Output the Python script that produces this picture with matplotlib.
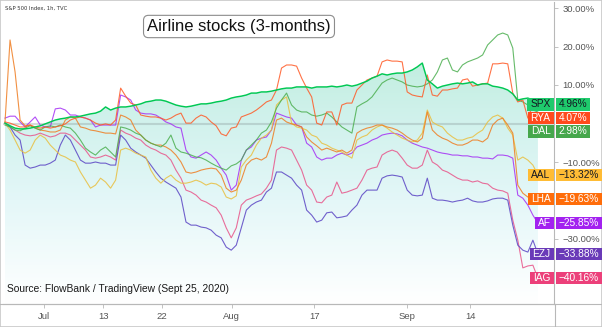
import numpy as np
import matplotlib.pyplot as plt
from matplotlib import transforms
from matplotlib.patches import Rectangle
from matplotlib.lines import Line2D
from matplotlib.colors import to_rgb

# % change over 3 months, hourly chart sampled every few bars (Jun 24 - Sep 25, 2020)
spx = [0.1, -0.6, -1.2, -1.4, -1.4, -1.2, -0.9, -0.6, -0.1, 0.4,
       0.9, 1.2, 1.4, 1.7, 1.7, 1.9, 2.2, 2.5, 2.7, 3.2,
       4.3, 3.5, 4.0, 4.3, 4.3, 4.5, 4.8, 5.1, 5.6, 5.8,
       6.1, 6.1, 5.8, 5.3, 4.8, 4.5, 4.3, 4.5, 4.8, 5.1,
       5.1, 5.3, 5.6, 5.8, 6.1, 6.6, 6.9, 7.1, 7.4, 7.9,
       7.9, 8.2, 8.2, 8.4, 8.7, 9.0, 9.2, 9.2, 9.5, 9.5,
       9.5, 9.2, 9.5, 9.5, 9.5, 9.7, 9.5, 9.7, 10.0, 9.7,
       10.0, 10.5, 11.0, 11.8, 12.3, 12.9, 12.6, 12.9, 13.1, 13.1,
       13.4, 13.9, 14.7, 15.7, 11.3, 10.3, 9.2, 9.7, 10.0, 10.3,
       10.5, 10.3, 10.5, 10.8, 10.0, 10.3, 10.3, 9.7, 9.5, 9.2,
       8.7, 7.7, 6.1, 6.4, 6.6, 6.1, 4.96]
rya = [0.4, 0.1, -0.4, -0.9, -0.9, -0.4, -0.9, -1.2, -0.9, -1.2,
       -0.9, -0.6, -0.1, 0.9, 1.4, 1.7, 1.4, 0.9, 0.1, -0.4,
       -0.1, -0.4, 0.9, 9.2, 7.1, 5.3, 4.8, 2.2, 1.9, 1.7,
       1.7, 1.4, 0.9, 1.4, 2.2, 2.7, 0.1, 0.1, 1.4, 2.2,
       1.7, 0.4, -0.6, -2.7, -3.2, -1.2, -0.9, 1.7, 2.2, 2.7,
       3.5, 4.5, 5.6, 6.1, 8.7, 14.4, 15.2, 15.2, 14.9, 11.8,
       9.2, 6.9, 0.1, -0.4, 3.0, 3.0, -0.4, 4.8, 5.3, 5.3,
       8.7, 10.0, 11.3, 11.8, 12.3, 16.0, 16.5, 16.2, 16.2, 16.0,
       8.2, 7.4, 7.1, 6.9, 12.6, 7.4, 7.1, 8.7, 8.7, 9.0,
       9.2, 11.3, 11.6, 9.7, 10.0, 10.3, 10.5, 15.5, 15.5, 15.7,
       15.5, 7.9, 5.6, 6.1, 1.4, 4.8, 4.07]
dal = [-0.4, -0.9, -1.7, -1.9, -1.2, -0.6, -1.2, -1.7, -0.9, -0.6,
       -0.9, -0.4, -0.9, -1.2, -2.5, -4.3, -6.4, -7.4, -8.2, -6.9,
       -6.1, -7.4, -8.7, -0.9, -1.2, -1.7, -2.5, -3.0, -4.3, -5.1,
       -5.6, -6.1, -5.1, -3.0, -6.4, -7.4, -7.7, -8.2, -8.7, -8.9,
       -9.5, -10.3, -11.0, -11.6, -12.1, -11.0, -10.5, -9.5, -6.9, -5.6,
       -4.3, -2.5, -1.7, 0.4, 4.0, 6.1, 7.9, 4.8, 3.5, 3.0,
       3.0, 2.2, 1.9, 2.2, 2.7, 1.7, 0.4, -0.9, -1.7, -2.5,
       4.3, 5.1, 5.8, 6.9, 8.7, 10.5, 11.3, 11.8, 11.3, 10.8,
       10.0, 9.7, 9.5, 9.7, 10.3, 11.3, 13.4, 16.5, 17.0, 13.9,
       13.4, 15.2, 16.0, 16.5, 17.0, 17.8, 20.4, 21.7, 23.0, 23.5,
       23.0, 19.6, 6.1, 5.6, 4.8, 3.5, 2.98]
aal = [0.1, -1.7, -4.3, -6.9, -7.7, -6.9, -4.3, -3.0, -3.8, -5.6,
       -6.9, -8.2, -8.7, -9.5, -10.0, -12.6, -14.7, -16.8, -16.0, -14.2,
       -15.2, -16.8, -14.7, -6.9, -6.4, -6.9, -7.7, -8.2, -8.7, -12.1,
       -14.2, -15.5, -14.2, -13.4, -14.7, -15.5, -15.5, -15.2, -14.7, -15.2,
       -16.0, -15.5, -15.7, -16.5, -19.1, -19.6, -18.8, -11.3, -9.5, -8.2,
       -5.6, -3.8, -3.0, -1.7, 4.8, 6.1, 6.9, 0.1, -0.9, -1.2,
       -1.7, -3.0, -3.5, -5.1, -5.6, -6.4, -6.9, -7.4, -8.2, -9.0,
       -4.3, -3.5, -3.0, -1.7, -0.9, -0.4, -1.2, -2.2, -3.0, -3.8,
       -4.3, -4.8, -4.3, -2.5, 3.5, 0.4, -0.4, -0.9, -2.5, -3.5,
       -4.3, -4.3, -3.8, -3.5, -2.5, -1.7, 0.4, 1.7, 2.2, 1.4,
       -1.2, -3.0, -9.5, -8.7, -9.5, -10.8, -13.32]
lha = [0.4, 21.7, 13.4, 0.9, -0.6, -0.4, -1.2, -1.7, -1.9, -2.2,
       -2.2, -1.7, 0.9, 1.7, 1.4, -0.9, -1.2, -1.7, -1.9, -2.2,
       -2.5, -2.5, -2.7, 2.2, 1.7, 0.9, -1.7, -3.0, -4.3, -5.1,
       -5.6, -5.6, -6.1, -6.9, -8.2, -10.0, -12.6, -12.9, -12.6, -12.1,
       -11.8, -11.6, -11.8, -13.4, -16.8, -17.8, -17.3, -14.7, -10.8, -9.5,
       -9.0, -9.5, -8.7, -5.1, 0.9, 1.4, 0.4, -0.1, -0.4, -0.9,
       -3.5, -4.8, -5.8, -6.9, -6.4, -6.9, -7.4, -6.9, -7.7, -6.9,
       -2.5, -1.7, -1.2, -0.9, -0.4, -0.4, -0.9, -1.2, -1.7, -2.5,
       -3.5, -4.3, -4.8, -3.8, 3.0, -1.7, -3.0, -3.8, -4.3, -5.1,
       -5.6, -5.6, -5.1, -4.3, -4.3, -4.8, -3.8, -0.4, 0.9, 1.4,
       -0.4, -2.5, -16.0, -18.1, -19.1, -19.4, -19.63]
af = [1.4, 1.9, 1.9, 0.4, -0.9, 0.4, 1.7, -0.4, -0.9, -0.9,
      3.8, 4.0, 3.5, 2.2, 2.2, 1.7, 1.4, 0.9, -0.9, -0.4,
      -0.4, -0.4, -0.4, 7.4, 6.9, 6.1, 3.5, 2.7, 2.5, 2.5,
      2.2, 1.4, 0.4, -0.1, -0.9, -1.2, -6.9, -8.7, -9.0, -8.2,
      -7.4, -8.2, -9.5, -11.6, -13.4, -17.3, -16.0, -9.5, -6.9, -6.1,
      -4.3, -3.8, -3.5, -1.7, 2.7, 2.2, 1.7, 1.4, -0.4, -0.9,
      -5.1, -6.1, -8.7, -9.5, -9.0, -9.0, -8.2, -7.7, -8.2, -7.7,
      -6.1, -5.6, -5.1, -4.3, -3.8, -3.0, -2.7, -2.5, -2.7, -3.2,
      -4.3, -5.1, -5.6, -6.1, -6.4, -6.9, -7.4, -7.7, -7.9, -8.2,
      -8.2, -8.4, -8.4, -8.7, -8.7, -9.0, -9.0, -9.2, -8.2, -8.2,
      -8.4, -9.0, -18.6, -19.4, -21.2, -23.8, -25.85]
ezj = [0.1, -0.9, -3.0, -4.3, -10.8, -11.6, -11.3, -10.8, -10.8, -10.3,
       -9.5, -5.6, -3.0, -4.3, -6.9, -9.5, -10.3, -10.3, -10.0, -10.3,
       -10.3, -10.8, -10.8, -3.0, -4.3, -6.4, -7.4, -8.2, -9.0, -10.8,
       -12.6, -14.2, -15.2, -16.0, -16.8, -19.1, -25.6, -26.4, -26.4, -26.9,
       -27.1, -27.7, -29.0, -29.7, -32.1, -32.9, -31.6, -27.1, -22.5, -21.2,
       -20.4, -19.9, -17.8, -16.8, -12.6, -12.6, -13.4, -14.2, -16.0, -17.3,
       -22.5, -23.8, -25.6, -25.1, -23.2, -23.0, -24.5, -24.3, -24.0, -22.5,
       -21.2, -18.6, -17.3, -17.3, -17.3, -14.2, -13.6, -13.4, -13.6, -13.9,
       -17.3, -18.6, -18.8, -18.6, -14.2, -19.4, -19.9, -19.9, -20.1, -20.4,
       -20.1, -19.9, -19.4, -20.1, -20.4, -20.4, -20.1, -19.6, -19.4, -19.4,
       -19.9, -26.4, -31.6, -32.9, -33.4, -30.3, -33.88]
iag = [0.1, -0.9, -1.7, -2.5, -3.0, -3.2, -3.0, -2.5, -3.0, -3.5,
       -3.2, -2.5, -2.5, -3.0, -4.3, -5.6, -6.9, -8.7, -9.0, -8.7,
       -8.2, -8.7, -9.5, -1.7, -2.5, -3.0, -3.8, -4.3, -5.6, -6.4,
       -6.9, -7.7, -8.2, -9.5, -12.1, -14.2, -17.3, -17.8, -18.6, -19.9,
       -20.4, -21.2, -21.9, -23.8, -27.1, -29.7, -27.1, -21.2, -19.9, -19.4,
       -18.8, -18.3, -16.8, -14.7, -6.9, -6.1, -6.4, -6.9, -9.5, -12.1,
       -16.0, -17.3, -20.4, -20.6, -19.1, -18.6, -15.2, -18.1, -17.8, -17.3,
       -16.8, -14.7, -12.1, -11.6, -11.3, -8.2, -7.4, -6.9, -7.4, -9.0,
       -10.8, -11.6, -11.6, -10.8, -6.9, -10.0, -10.8, -12.1, -12.6, -13.4,
       -14.2, -14.7, -14.7, -15.2, -14.9, -15.5, -15.7, -16.8, -17.3, -17.5,
       -18.1, -25.1, -30.3, -37.5, -37.0, -36.8, -40.16]

names = ['SPX', 'RYA', 'DAL', 'AAL', 'LHA', 'AF', 'EZJ', 'IAG']
series = [spx, rya, dal, aal, lha, af, ezj, iag]
line_colors = ['#00c853', '#ff5a26', '#4caf50', '#e9bf3f', '#ef7d22', '#a530f5', '#5b45c4', '#e8558a']
tag_colors = ['#1fca6c', '#ff4a1c', '#46a74c', '#ffbc35', '#ff6d0a', '#a322f0', '#6a3ab8', '#ec407a']
tag_text = ['#131722', 'white', 'white', '#131722', 'white', 'white', 'white', 'white']

tick_pos = [7.75, 19.5, 31.2, 45.1, 61.5, 79.9, 92.5]
tick_labels = ['Jul', '13', '22', 'Aug', '17', 'Sep', '14']
yticks = [30, 20, 10, -10, -30]

W, H = 602, 327
fig = plt.figure(figsize=(W / 100, H / 100), dpi=100)
ax = fig.add_axes([3 / W, 23 / H, 551 / W, 302 / H])
ytop, ybot = (123.5 - 2) / 3.85, (123.5 - 304) / 3.85
ax.set_xlim(-0.4, 109.2)
ax.set_ylim(ybot, ytop)

# gradient area under the S&P 500 line
x = np.arange(len(spx))
area = ax.fill_between(x, spx, ybot, facecolor='none', edgecolor='none')
vs = np.linspace(ytop, ybot, 400)
stop_v = [ybot, -20, 0, 16]
stop_c = [to_rgb(c) for c in ['#ffffff', '#e4f7f8', '#d2f2ed', '#c2eee0']]
grad = np.zeros((len(vs), 1, 3))
for k in range(3):
    grad[:, 0, k] = np.interp(vs, stop_v, [c[k] for c in stop_c])
im = ax.imshow(grad, extent=[-0.4, 109.2, ybot, ytop], aspect='auto', zorder=1,
               interpolation='bilinear')
im.set_clip_path(area.get_paths()[0], transform=ax.transData)

ax.axhline(0, color='#8a9a9a', alpha=0.35, lw=1.5, zorder=2)

order = [7, 6, 5, 3, 4, 2, 1, 0]
for i in order:
    vals = series[i]
    lw = 1.05 if names[i] == 'SPX' else 0.8
    a = 1.0 if names[i] == 'SPX' else 0.85
    ax.plot(np.arange(len(vals)), vals, color=line_colors[i], lw=lw, alpha=a, zorder=3)

for s in ['left', 'top']:
    ax.spines[s].set_visible(False)
for s in ['right', 'bottom']:
    ax.spines[s].set_color('#b8b8b8')
    ax.spines[s].set_linewidth(0.8)

ax.yaxis.tick_right()
ax.set_yticks(yticks)
ax.set_yticklabels([f'{v:.2f}%'.replace('-', '\u2212') for v in yticks])
ax.set_xticks(tick_pos)
ax.set_xticklabels(tick_labels)
ax.tick_params(axis='both', length=3, width=0.6, color='#b8b8b8', labelsize=6.8,
               labelcolor='#555555', pad=3)
for lab in ax.get_xticklabels() + ax.get_yticklabels():
    lab.set_family('Liberation Sans')

# frame lines extending into the margins
fig.add_artist(Line2D([554.5 / W, 554.5 / W], [0, 23 / H], color='#b8b8b8', lw=0.8))
fig.add_artist(Line2D([0, 1], [23 / H, 23 / H], color='#b8b8b8', lw=0.8))
fig.add_artist(Rectangle((0, 0), 1, 1, transform=fig.transFigure, fill=False,
                         ec='#c8c8c8', lw=1.2))

fig.text(239 / W, 1 - 26.5 / H, 'Airline stocks (3-months)', ha='center', va='center',
         fontsize=12, family='Liberation Sans', color='#111111',
         bbox=dict(boxstyle='round,pad=0.22,rounding_size=0.3', fc='white',
                   ec='#8c8c8c', lw=0.8))
fig.text(7 / W, 1 - 289 / H, 'Source: FlowBank / TradingView (Sept 25, 2020)', ha='left',
         va='center', fontsize=7.4, family='Liberation Sans', color='#1a1a1a')
fig.text(5 / W, 1 - 8 / H, 'S&P 500 Index, 1h, TVC', ha='left', va='center',
         fontsize=3.8, color='#333333')

# price tags on the right, stacked so they do not overlap
blend = transforms.blended_transform_factory(fig.transFigure, ax.transData)
tag_y = []
prev = None
for vals in series:
    y = vals[-1] if prev is None else min(vals[-1], prev - 3.5)
    tag_y.append(y)
    prev = y

texts = []
for i, name in enumerate(names):
    val = f'{series[i][-1]:.2f}%'.replace('-', '\u2212')
    t1 = fig.text(550.5 / W, tag_y[i], name, ha='right', va='center', fontsize=7.3,
                  family='Liberation Sans', color=tag_text[i], transform=blend, zorder=6)
    t2 = fig.text(558.5 / W, tag_y[i], val, ha='left', va='center', fontsize=7.3,
                  family='Liberation Sans', color=tag_text[i], transform=blend, zorder=6)
    texts.append((t1, t2))

fig.canvas.draw()
r = fig.canvas.get_renderer()
for i, (t1, t2) in enumerate(texts):
    yc = ax.transData.transform((0, tag_y[i]))[1]
    b1 = t1.get_window_extent(r)
    b2 = t2.get_window_extent(r)
    h = 12.5
    fig.add_artist(Rectangle(((b1.x0 - 3) / W, (yc - h / 2) / H), (553.5 - b1.x0 + 3) / W, h / H,
                             transform=fig.transFigure, fc=tag_colors[i], ec='none', zorder=5))
    fig.add_artist(Rectangle((555.5 / W, (yc - h / 2) / H), (b2.x1 + 3 - 555.5) / W, h / H,
                             transform=fig.transFigure, fc=tag_colors[i], ec='none', zorder=5))

fig.savefig('out.png', dpi=100)
